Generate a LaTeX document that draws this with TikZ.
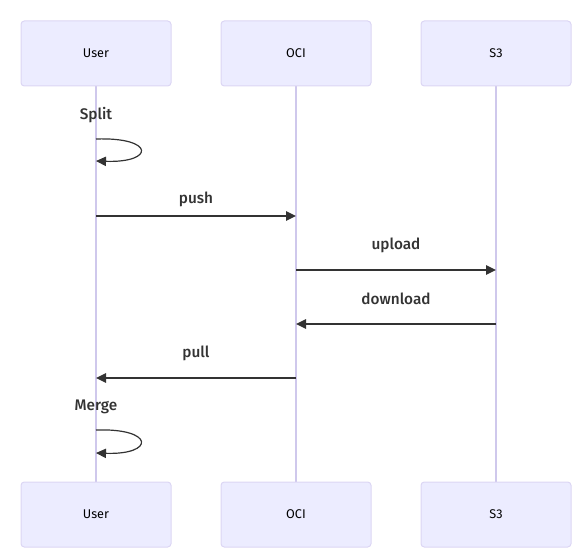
\documentclass[tikz,border=0pt]{standalone}
\usepackage{fontspec}
\setmainfont{Fira Sans}[BoldFont={Fira Sans Medium}]
\usetikzlibrary{arrows.meta}
\definecolor{actfill}{HTML}{ECECFF}
\definecolor{actborder}{HTML}{DCD6F4}
\definecolor{lifeline}{HTML}{CFC8EC}
\definecolor{msg}{HTML}{333333}
\tikzset{
  actor/.style={draw=actborder, fill=actfill, line width=0.75pt, rounded corners=2.5pt,
    minimum width=112.5pt, minimum height=48.75pt, inner sep=0pt,
    font=\fontsize{9.5}{11}\selectfont, text=black},
  lifel/.style={draw=lifeline, line width=1.1pt},
  msgline/.style={draw=msg, line width=1.2pt, -{Triangle[length=7.5pt,width=7pt]}},
  selfline/.style={draw=msg, line width=0.9pt, -{Triangle[length=7.5pt,width=7pt]}},
  msglabel/.style={font=\fontsize{11.5}{13}\selectfont\bfseries, text=msg, inner sep=0pt},
}
\begin{document}
\begin{tikzpicture}[x=0.75pt, y=-0.75pt]
\useasboundingbox (0,0) rectangle (588,559);
% lifelines first
\coordinate (ut) at (96,86); \coordinate (ub) at (96,482);
\coordinate (ot) at (296,86); \coordinate (ob) at (296,482);
\coordinate (st) at (496,86); \coordinate (sb) at (496,482);
\draw[lifel] (ut) -- (ub);
\draw[lifel] (ot) -- (ob);
\draw[lifel] (st) -- (sb);
% actors
\node[actor] (user) at (96,53.5) {User};
\node[actor] (oci) at (296,53.5) {OCI};
\node[actor] (s3) at (496,53.5) {S3};
\node[actor] (user2) at (96,514.5) {User};
\node[actor] (oci2) at (296,514.5) {OCI};
\node[actor] (s32) at (496,514.5) {S3};
% Split self message
\node[msglabel] (split) at (96,115) {Split};
\coordinate (s1a) at (96,139); \coordinate (s1b) at (96,161);
\draw[selfline] (s1a) .. controls (155,137) and (155,163) .. (s1b);
% push
\coordinate (pushA) at (96,216); \coordinate (pushB) at (296,216);
\draw[msgline] (pushA) -- (pushB);
\node[msglabel] (pushL) at (196,199) {push};
% upload
\coordinate (upA) at (296,270); \coordinate (upB) at (496,270);
\draw[msgline] (upA) -- (upB);
\node[msglabel] (upL) at (396,245) {upload};
% download
\coordinate (dnA) at (496,324); \coordinate (dnB) at (296,324);
\draw[msgline] (dnA) -- (dnB);
\node[msglabel] (dnL) at (396,299) {download};
% pull
\coordinate (plA) at (296,378); \coordinate (plB) at (96,378);
\draw[msgline] (plA) -- (plB);
\node[msglabel] (plL) at (196,353) {pull};
% Merge self message
\node[msglabel] (merge) at (96,407) {Merge};
\coordinate (m1a) at (96,430); \coordinate (m1b) at (96,453);
\draw[selfline] (m1a) .. controls (155,428) and (155,455) .. (m1b);
\end{tikzpicture}
\end{document}
